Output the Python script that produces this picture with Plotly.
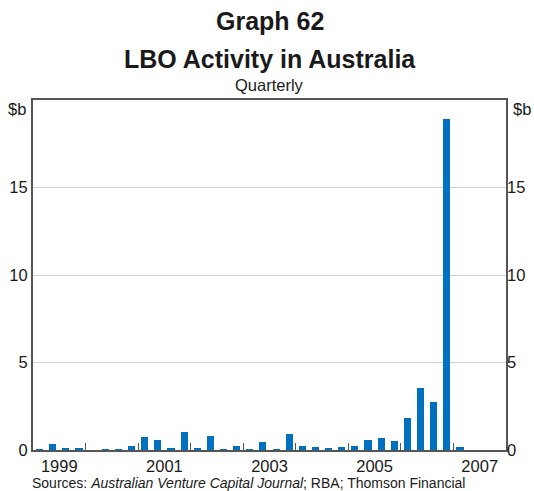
import plotly.graph_objects as go

years = [1999]*4 + [2000]*4 + [2001]*4 + [2002]*4 + [2003]*4 + [2004]*4 + [2005]*4 + [2006]*4 + [2007]*4
quarters = [1, 2, 3, 4] * 9
values = [
    0.03, 0.34, 0.11, 0.10,
    0.00, 0.03, 0.02, 0.23,
    0.74, 0.57, 0.11, 1.03,
    0.11, 0.80, 0.02, 0.23,
    0.03, 0.46, 0.03, 0.93,
    0.25, 0.19, 0.13, 0.19,
    0.25, 0.59, 0.70, 0.53,
    1.85, 3.56, 2.76, 18.90,
    0.19, 0.00, 0.00, 0.00,
]
year_labels = ["1999", "2001", "2003", "2005", "2007"]
y_ticks = [0, 5, 10, 15]

x = [y + (q - 0.5) / 4 for y, q in zip(years, quarters)]

FONT = "Liberation Sans, Arial, sans-serif"
TXT = "#1a1a1a"
AX = "#555555"

fig = go.Figure()
fig.add_trace(go.Bar(x=x, y=values, width=0.135, marker_color="#0070C0",
                     marker_line_width=0, showlegend=False))
fig.add_trace(go.Scatter(x=[x[0]], y=[values[0]], yaxis="y2", mode="markers",
                         marker=dict(opacity=0), showlegend=False, hoverinfo="skip"))

fig.update_layout(
    width=534, height=491,
    margin=dict(l=33, r=28, t=100, b=41),
    paper_bgcolor="white", plot_bgcolor="white",
    font=dict(family=FONT, color=TXT, size=16.5),
    bargap=0,
    xaxis=dict(
        range=[1999, 2008], automargin=False,
        tickmode="array",
        tickvals=[int(l) + 0.5 for l in year_labels],
        ticktext=year_labels,
        ticks="",
        showgrid=False, zeroline=False,
        showline=True, linecolor=AX, linewidth=2, mirror=True,
        tickfont=dict(size=16.5, color=TXT),
        minor=dict(tickmode="array", tickvals=list(range(2000, 2008)),
                   ticks="inside", ticklen=7, tickwidth=1, tickcolor=AX,
                   showgrid=False),
    ),
    yaxis=dict(
        range=[0, 20], automargin=False,
        tickmode="array", tickvals=y_ticks,
        ticks="", showgrid=True, gridcolor="#ccd2d6", gridwidth=1,
        zeroline=False,
        showline=True, linecolor=AX, linewidth=2, mirror=True,
        tickfont=dict(size=16.5, color=TXT),
    ),
    yaxis2=dict(
        range=[0, 20], overlaying="y", side="right", automargin=False,
        tickmode="array", tickvals=y_ticks,
        ticks="", showgrid=False, zeroline=False, showline=False,
        tickfont=dict(size=16.5, color=TXT),
    ),
)

ann = [
    dict(text="<b>Graph 62</b>", x=0.5, y=1.225, font=dict(size=25)),
    dict(text="<b>LBO Activity in Australia</b>", x=0.5, y=1.118, font=dict(size=25)),
    dict(text="Quarterly", x=0.5, y=1.042, font=dict(size=16.5)),
]
for a in ann:
    fig.add_annotation(xref="paper", yref="paper", showarrow=False,
                       xanchor="center", yanchor="middle", **a)

fig.add_annotation(text="$b", xref="paper", yref="y", x=0, y=19.5,
                   xanchor="right", yanchor="middle", xshift=-5, showarrow=False,
                   font=dict(size=16.5))
fig.add_annotation(text="$b", xref="paper", yref="y", x=1, y=19.5,
                   xanchor="left", yanchor="middle", xshift=5, showarrow=False,
                   font=dict(size=16.5))
fig.add_annotation(text="Sources: <i>Australian Venture Capital Journal</i>; RBA; Thomson Financial",
                   xref="paper", yref="paper", x=0, y=-0.094, xanchor="left", yanchor="middle",
                   xshift=-3, showarrow=False, font=dict(size=14))

fig.write_html("out.html", config={"displayModeBar": False},
               post_script="document.body.style.margin='0';document.body.style.padding='0';")
